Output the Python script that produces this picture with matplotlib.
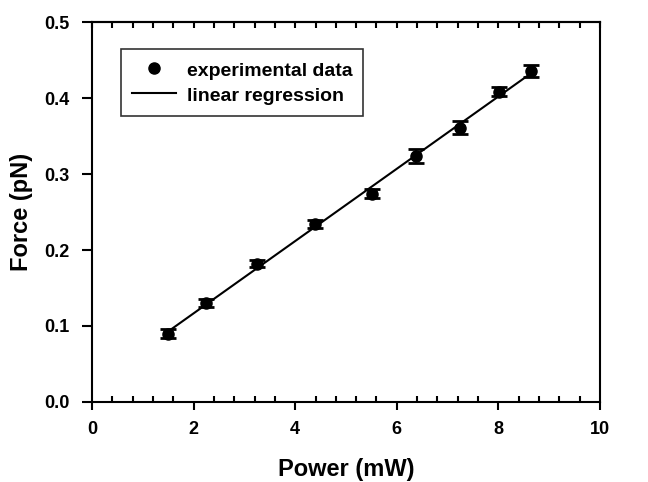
import numpy as np
import matplotlib
matplotlib.use("Agg")
import matplotlib.pyplot as plt
from matplotlib.ticker import MultipleLocator
from matplotlib.lines import Line2D

power = [1.50, 2.25, 3.25, 4.39, 5.51, 6.38, 7.25, 8.02, 8.64]
force = [0.090, 0.130, 0.182, 0.234, 0.274, 0.324, 0.361, 0.408, 0.435]
force_err = [0.006, 0.005, 0.005, 0.005, 0.006, 0.009, 0.009, 0.006, 0.008]

plt.rcParams['font.family'] = ['Liberation Sans', 'DejaVu Sans']
plt.rcParams['font.weight'] = 'bold'

fig = plt.figure(figsize=(6.48, 4.82), dpi=100)
ax = fig.add_axes([92/648, 1-402/482, 508/648, 380/482])

x = np.array(power)
y = np.array(force)
slope, intercept = np.polyfit(x, y, 1)
xl = np.array([x.min(), x.max()])
ax.plot(xl, slope*xl + intercept, color='black', lw=1.5, zorder=2)
ax.errorbar(x, y, yerr=force_err, fmt='o', color='black', ms=8, capsize=6,
            elinewidth=1.5, capthick=2, zorder=3)

ax.set_xlim(0, 10)
ax.set_ylim(0, 0.5)
ax.xaxis.set_major_locator(MultipleLocator(2))
ax.xaxis.set_minor_locator(MultipleLocator(0.4))
ax.set_yticks([0.0, 0.1, 0.2, 0.3, 0.4, 0.5])
ax.set_yticklabels(['0.0', '0.1', '0.2', '0.3', '0.4', '0.5'])

for s in ax.spines.values():
    s.set_linewidth(1.5)

ax.tick_params(axis='x', which='major', direction='out', length=6, width=1.5,
               labelsize=13, pad=8, top=False)
ax.tick_params(axis='x', which='minor', direction='in', length=4, width=1.5,
               top=True, bottom=True)
ax.tick_params(axis='y', which='major', direction='out', length=7, width=1.5,
               labelsize=13, pad=9, right=False)
ax2 = ax.secondary_xaxis('top')
ax2.set_xticks([0, 2, 4, 6, 8, 10])
ax2.tick_params(direction='in', length=4, width=1.5, labeltop=False)
ax2.spines['top'].set_linewidth(1.5)

for lab in ax.get_xticklabels() + ax.get_yticklabels():
    lab.set_fontweight('bold')

ax.set_xlabel('Power (mW)', fontsize=17, fontweight='bold', labelpad=14)
ax.set_ylabel('Force (pN)', fontsize=17, fontweight='bold', labelpad=8)

handles = [Line2D([], [], marker='o', ls='none', color='black', ms=8),
           Line2D([], [], color='black', lw=1.5)]
labels = ['experimental data', 'linear regression']
leg = ax.legend(handles, labels, loc='upper left', bbox_to_anchor=(0.057, 0.929),
                borderaxespad=0, frameon=True, fancybox=False, edgecolor='black',
                fontsize=14, handlelength=2.3, handleheight=1.25, borderpad=0.55,
                labelspacing=0.19, handletextpad=0.55)
leg.get_frame().set_linewidth(1.2)
for t in leg.get_texts():
    t.set_fontweight('bold')

fig.savefig('out.png', dpi=100)
